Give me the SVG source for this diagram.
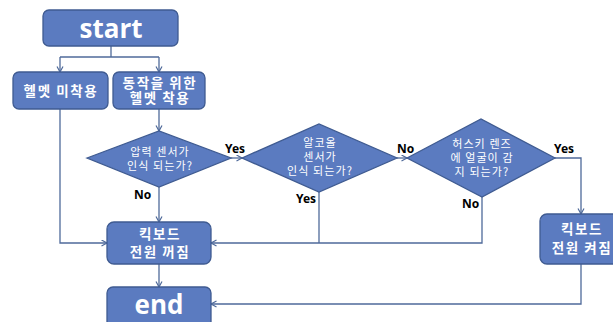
<svg xmlns="http://www.w3.org/2000/svg" width="613" height="322" viewBox="0 0 613 322">
<style>
.box{fill:#5b7bc0;stroke:#3f5b91;stroke-width:1.3}
.t{fill:#fff;font-family:"Noto Sans CJK KR","Noto Sans",sans-serif;text-anchor:middle}
.big{font-family:"Open Sans","Noto Sans",sans-serif;font-weight:bold;font-size:26px}
.bx{font-weight:bold;font-size:13.5px;letter-spacing:1.6px}
.dm{font-size:11px;letter-spacing:1.1px}
.c{fill:none;stroke:#4f6a9a;stroke-width:1.3}
.lb{font-family:"Noto Sans","Liberation Sans",sans-serif;font-weight:bold;font-size:12px;fill:#000}
</style>
<defs>
<marker id="ah" markerWidth="8" markerHeight="8" refX="6" refY="3.5" orient="auto" markerUnits="userSpaceOnUse">
<path d="M0.5,0.5 L6,3.5 L0.5,6.5" fill="none" stroke="#4f6a9a" stroke-width="1.2"/>
</marker>
</defs>
<g id="connectors">
<path class="c" d="M111,46 V57"/>
<path class="c" d="M60,57 H159"/>
<path class="c" d="M60,57 V72" marker-end="url(#ah)"/>
<path class="c" d="M159,57 V72" marker-end="url(#ah)"/>
<path class="c" d="M60,109 V243 H107" marker-end="url(#ah)"/>
<path class="c" d="M159,109 V131" marker-end="url(#ah)"/>
<path class="c" d="M231,158 H242" marker-end="url(#ah)"/>
<path class="c" d="M397,158 H407" marker-end="url(#ah)"/>
<path class="c" d="M159,187 V222" marker-end="url(#ah)"/>
<path class="c" d="M319,192 V243"/>
<path class="c" d="M482,197 V243 H211" marker-end="url(#ah)"/>
<path class="c" d="M555,158 H581 V214" marker-end="url(#ah)"/>
<path class="c" d="M159,264 V287" marker-end="url(#ah)"/>
<path class="c" d="M581,264 V304 H211" marker-end="url(#ah)"/>
</g>
<g id="start">
<rect class="box" x="43" y="10" width="135" height="36" rx="6"/>
<text class="t big" x="111" y="38">start</text>
</g>
<g id="no-helmet">
<rect class="box" x="13" y="72" width="95" height="37" rx="6"/>
<text class="t bx" x="61" y="96">헬멧 미착용</text>
</g>
<g id="helmet">
<rect class="box" x="113" y="72" width="92" height="37" rx="6"/>
<text class="t bx" x="160" y="88" font-size="12.5">동작을 위한</text>
<text class="t bx" x="160" y="103" font-size="12.5">헬멧 착용</text>
</g>
<g id="pressure">
<polygon class="box" points="87,158 159,131 231,158 159,187"/>
<text class="t dm" x="160" y="156">압력 센서가</text>
<text class="t dm" x="160" y="170">인식 되는가?</text>
</g>
<g id="alcohol">
<polygon class="box" points="242,158 319,124 397,158 319,192"/>
<text class="t dm" x="320" y="147">알코올</text>
<text class="t dm" x="320" y="161">센서가</text>
<text class="t dm" x="320" y="175">인식 되는가?</text>
</g>
<g id="husky">
<polygon class="box" points="407,158 481,119 555,158 482,197"/>
<text class="t dm" x="482" y="148">허스키 렌즈</text>
<text class="t dm" x="482" y="162">에 얼굴이 감</text>
<text class="t dm" x="482" y="176">지 되는가?</text>
</g>
<g id="off">
<rect class="box" x="107" y="222" width="104" height="42" rx="7"/>
<text class="t bx" x="160" y="239">킥보드</text>
<text class="t bx" x="160" y="257">전원 꺼짐</text>
</g>
<g id="on">
<rect class="box" x="540" y="214" width="82" height="50" rx="7"/>
<text class="t bx" x="582" y="234">킥보드</text>
<text class="t bx" x="582" y="253">전원 켜짐</text>
</g>
<g id="end">
<rect class="box" x="107" y="287" width="104" height="42" rx="6"/>
<text class="t big" x="159" y="314">end</text>
</g>
<g id="labels">
<text class="lb" x="225" y="153">Yes</text>
<text class="lb" x="134" y="199">No</text>
<text class="lb" x="296" y="203">Yes</text>
<text class="lb" x="397" y="153">No</text>
<text class="lb" x="554" y="153">Yes</text>
<text class="lb" x="462" y="208">No</text>
</g>
</svg>
